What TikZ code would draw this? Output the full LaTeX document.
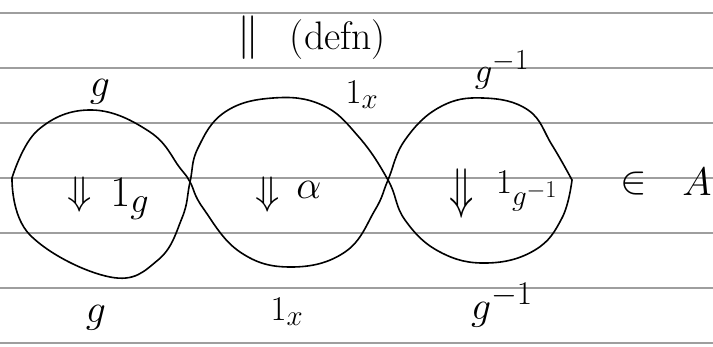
\documentclass[tikz,border=0pt]{standalone}
\begin{document}
\begin{tikzpicture}[x=1pt,y=-1pt,
  curve/.style={line width=1.6pt, line join=round, line cap=round},
  rule/.style={line width=2.4pt, black!38},
  lab/.style={inner sep=0pt, font=\Huge, scale=1.6},
  biglab/.style={inner sep=0pt, font=\Huge, scale=1.75},
  smalllab/.style={inner sep=0pt, font=\Huge, scale=1.4}]
\useasboundingbox (0,0) rectangle (713,346);
\fill[white] (0,0) rectangle (713,346);
\foreach \y in {13,68,123,178,233,288,343} \draw[rule] (0,\y) -- (713,\y);
% strand A
\draw[curve] plot[smooth, tension=0.7] coordinates {(12,178) (38,130) (92,110) (150,132) (180,168) (190,182) (203,208) (240,252) (291,267) (345,252) (375,210) (388,180) (405,140) (440,107) (483,98) (528,110) (552,145) (572,180)};
% strand B
\draw[curve] plot[smooth, tension=0.7] coordinates {(12,178) (30,235) (110,277) (158,260) (182,218) (190,182) (198,148) (225,112) (273,98) (322,105) (358,136) (388,180) (405,220) (440,252) (487,263) (535,250) (562,218) (572,180)};
% title
\node[biglab] (eq) at (248,38) {$\|$};
\node[lab] (defn) at (338,40) {(defn)};
% labels loop 1
\node[lab] (gtop) at (100,92) {$g$};
\node[lab] (gbot) at (96,318) {$g$};
\node[lab] (arr1) at (80,195) {$\Downarrow$};
\node[biglab] (oneg) at (130,199) {$1_g$};
% loop 2
\node[smalllab] (onextop) at (362,95) {$1_x$};
\node[smalllab] (onexbot) at (287,312) {$1_x$};
\node[lab] (arr2) at (268,195) {$\Downarrow$};
\node[lab] (alpha) at (309,190) {$\alpha$};
% loop 3
\node[smalllab] (ginvtop) at (502,70) {$g^{-1}$};
\node[lab] (ginvbot) at (502,305) {$g^{-1}$};
\node[lab, yscale=1.4] (arr3) at (462,194) {$\Downarrow$};
\node[smalllab] (oneginv) at (527,191) {$1_{g^{-1}}$};
% membership
\node[lab] (in) at (634,184) {$\in$};
\node[lab] (A) at (697,182) {$A$};
\end{tikzpicture}
\end{document}
